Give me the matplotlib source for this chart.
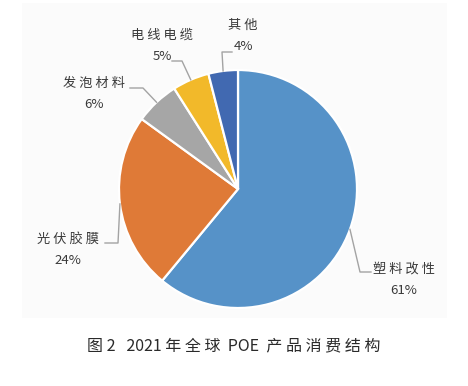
import numpy as np
import matplotlib
matplotlib.use("Agg")
import matplotlib.pyplot as plt
from matplotlib.patches import Rectangle

plt.rcParams['font.family'] = ['Noto Sans CJK SC', 'DejaVu Sans']

# data
labels = ["塑料改性", "光伏胶膜", "发泡材料", "电线电缆", "其他"]
shares = [61, 24, 6, 5, 4]
colors = ["#5692c8", "#df7a37", "#a6a6a6", "#f2b92a", "#4169b1"]
caption = "图 2   2021 年 全 球  POE  产 品 消 费 结 构"

# layout in pixels (x, y from top): leader elbow, leader end, name pos, pct pos
W, H = 468, 386
elbows = [(360, 272), (118, 243), (143, 88), (182, 61), (222, 52)]
ends = [(371, 272), (105, 243), (130, 88), (172, 61), (232, 52)]
name_pos = [(404, 269), (68, 239), (94, 83), (162, 35), (243, 25)]
pct_pos = [(404, 290), (68, 261), (94, 105), (162, 57), (243, 47)]
cx, cy, R = 238, 189, 119


def P(x, y):
    return x, H - y


fig = plt.figure(figsize=(W / 100, H / 100), dpi=100)
ax = fig.add_axes([0, 0, 1, 1])

wedges, _ = ax.pie(shares, colors=colors, startangle=90, counterclock=False,
                   center=P(cx, cy), radius=R,
                   wedgeprops=dict(edgecolor="white", linewidth=1.6))
ax.set_xlim(0, W)
ax.set_ylim(0, H)
ax.set_aspect("equal")
ax.axis("off")

# light panel behind the pie
ax.add_patch(Rectangle(P(22, 318), 425, 315, facecolor="#fbfbfb",
                       edgecolor="none", zorder=0))

txt_color = "#3a3a3a"
for i, w in enumerate(wedges):
    ang = np.deg2rad((w.theta1 + w.theta2) / 2)
    sx = cx + R * np.cos(ang)
    sy = cy - R * np.sin(ang)
    xs = [sx, elbows[i][0], ends[i][0]]
    ys = [H - sy, H - elbows[i][1], H - ends[i][1]]
    ax.plot(xs, ys, color="#a3a3a3", lw=1.0, zorder=3)
    ax.text(*P(*name_pos[i]), " ".join(labels[i]), ha="center", va="center",
            fontsize=9.5, color=txt_color)
    ax.text(*P(*pct_pos[i]), f"{shares[i]}%", ha="center", va="center",
            fontsize=9.5, color=txt_color)

ax.text(*P(234, 346), caption, ha="center", va="center", fontsize=11.5,
        color="#2a2a2a")

fig.savefig("out.png", dpi=100, facecolor="white")
